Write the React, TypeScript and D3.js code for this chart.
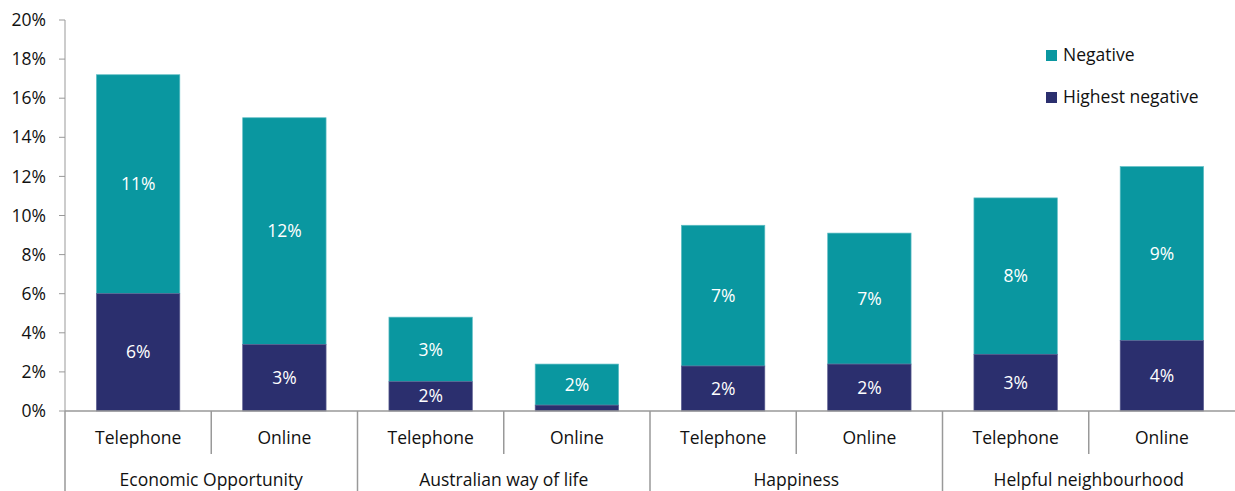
import * as d3 from "d3";

const groups = ["Economic Opportunity", "Australian way of life", "Happiness", "Helpful neighbourhood"];
const modes = ["Telephone", "Online"];
// share of respondents, % (stacked: highest negative at the bottom, the rest of negative on top)
const highestNegative = [6.0, 3.4, 1.5, 0.3, 2.3, 2.4, 2.9, 3.6];
const otherNegative = [11.2, 11.6, 3.3, 2.1, 7.2, 6.7, 8.0, 8.9];
const yTicks = [0, 2, 4, 6, 8, 10, 12, 14, 16, 18, 20];

const W = 1235;
const H = 491;
const left = 65;
const right = 1235;
const top = 20;
const bottom = 411;
const teal = "#0A97A0";
const navy = "#2B2F6E";
const font = "'Open Sans', sans-serif";
const fs = 17.5;

export default function App() {
  const cats = groups.flatMap((g) => modes.map((m) => `${g}|${m}`));
  const x = d3.scaleBand<string>().domain(cats).range([left, right]).paddingInner(0.43).paddingOuter(0.215);
  const y = d3.scaleLinear().domain([0, 20]).range([bottom, top]);
  const step = x.step();
  const pct = (v: number) => `${Math.round(v)}%`;

  return (
    <svg width={W} height={H} style={{ position: "absolute", left: 0, top: 0 }} fontFamily={font}>
      {/* y axis */}
      <line x1={left} x2={left} y1={top} y2={bottom} stroke="#999" />
      {yTicks.map((t) => (
        <g key={t}>
          <line x1={left - 6} x2={left} y1={y(t)} y2={y(t)} stroke="#999" />
          <text x={left - 19} y={y(t)} dy="0.35em" textAnchor="end" fontSize={fs} fill="#111">
            {t}%
          </text>
        </g>
      ))}
      {/* bars */}
      {cats.map((c, i) => {
        const b = x(c)!;
        const w = x.bandwidth();
        const h0 = highestNegative[i];
        const h1 = h0 + otherNegative[i];
        return (
          <g key={c}>
            <rect x={b} y={y(h1)} width={w} height={y(h0) - y(h1)} fill={teal} stroke="#5bbcc3" strokeWidth={0.7} />
            <rect x={b} y={y(h0)} width={w} height={y(0) - y(h0)} fill={navy} stroke="#5a5d8f" strokeWidth={0.7} />
            <text x={b + w / 2} y={(y(h0) + y(h1)) / 2} dy="0.35em" textAnchor="middle" fontSize={fs} fill="#fff">
              {pct(otherNegative[i])}
            </text>
            {h0 >= 1 && (
              <text x={b + w / 2} y={(y(h0) + y(0)) / 2} dy="0.35em" textAnchor="middle" fontSize={fs} fill="#fff">
                {pct(h0)}
              </text>
            )}
          </g>
        );
      })}
      {/* x axis */}
      <line x1={left} x2={right} y1={bottom} y2={bottom} stroke="#999" strokeWidth={1.5} />
      {cats.map((c, i) => {
        const b = x(c)! - (step - x.bandwidth()) / 2;
        const isGroupStart = i % 2 === 0;
        return (
          <g key={`t${c}`}>
            <line x1={b} x2={b} y1={bottom} y2={isGroupStart ? H : bottom + 43} stroke="#999" strokeWidth={1.5} />
            <text x={b + step / 2} y={438} dy="0.35em" textAnchor="middle" fontSize={fs} fill="#111">
              {c.split("|")[1]}
            </text>
          </g>
        );
      })}
      {groups.map((g) => {
        const s = x(`${g}|${modes[0]}`)! - (step - x.bandwidth()) / 2;
        return (
          <text key={g} x={s + step} y={480} dy="0.35em" textAnchor="middle" fontSize={fs} fill="#111">
            {g}
          </text>
        );
      })}
      {/* legend */}
      {[
        { label: "Negative", color: teal, yy: 55 },
        { label: "Highest negative", color: navy, yy: 97 },
      ].map((l) => (
        <g key={l.label}>
          <rect x={1046} y={l.yy - 5} width={11} height={11} fill={l.color} />
          <text x={1063} y={l.yy} dy="0.35em" fontSize={fs} fill="#111">
            {l.label}
          </text>
        </g>
      ))}
    </svg>
  );
}
